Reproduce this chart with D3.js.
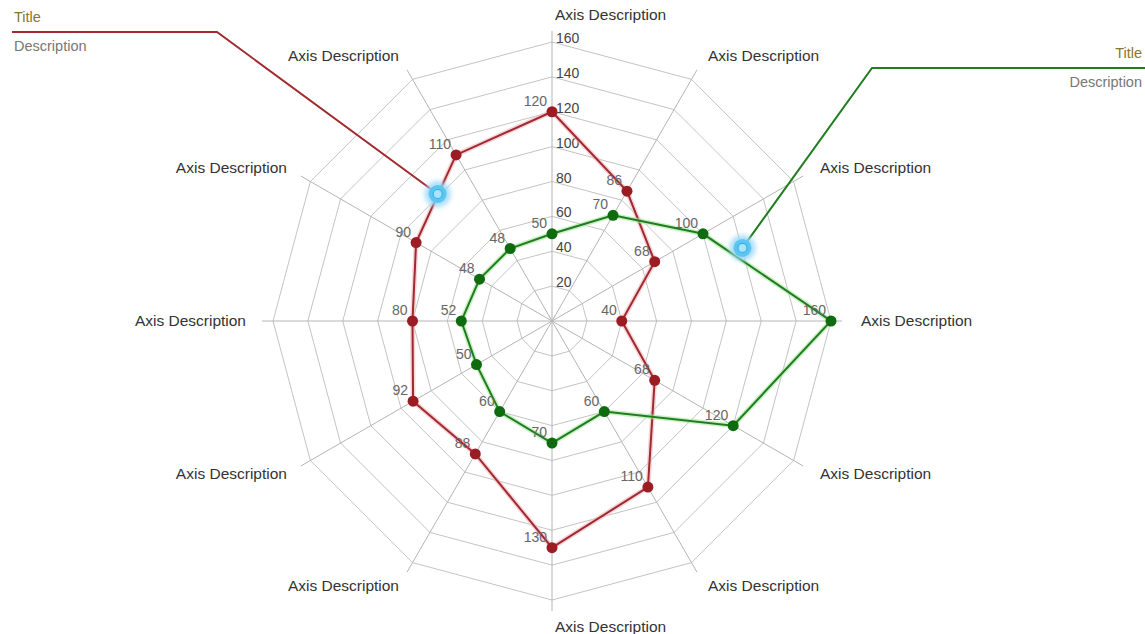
<!DOCTYPE html>
<html>
<head>
<meta charset="utf-8">
<script src="https://cdn.jsdelivr.net/npm/d3@7/dist/d3.min.js"></script>
<style>
  html, body { margin: 0; padding: 0; background: #fff; }
  svg { display: block; font-family: "Liberation Sans", Arial, sans-serif; }
</style>
</head>
<body>
<svg id="chart" width="1145" height="634"></svg>
<script>
// Radar chart: two series over twelve axes, with two callouts.
const axisLabels = [
  "Axis Description", "Axis Description", "Axis Description", "Axis Description",
  "Axis Description", "Axis Description", "Axis Description", "Axis Description",
  "Axis Description", "Axis Description", "Axis Description", "Axis Description"
];
const seriesRed   = [120, 86, 68, 40, 68, 110, 130, 88, 92, 80, 90, 110];
const seriesGreen = [50, 70, 100, 160, 120, 60, 70, 60, 50, 52, 48, 48];
const tickValues  = [20, 40, 60, 80, 100, 120, 140, 160];
const seriesNames = ["red", "green"];
const seriesColors = ["#a02a2e", "#1f7d1f"];
const pointColors  = ["#9c1c24", "#0e6b0e"];
const haloColors   = ["#f2b8c0", "#a9e6a0"];

// Callouts: an anchor in chart space (fractional axis index, value) with a title and text.
const calloutTitles = ["Title", "Title"];
const calloutTexts  = ["Description", "Description"];
const calloutAxis   = [10.6, 2.3];
const calloutValue  = [98, 117];
const calloutSide   = ["left", "right"];

const W = 1145, H = 634;
const cx = 552, cy = 321;
const rMax = 279, axisLen = 290, labelRad = 306;

const svg = d3.select("#chart");
const r = d3.scaleLinear().domain([0, 160]).range([0, rMax]);
const angle = d3.scaleLinear().domain([0, axisLabels.length]).range([0, 2 * Math.PI]);

const px = (i, v) => cx + r(v) * Math.sin(angle(i));
const py = (i, v) => cy - r(v) * Math.cos(angle(i));

const defs = svg.append("defs");
const glow = defs.append("filter").attr("id", "glow").attr("x", "-100%").attr("y", "-100%")
  .attr("width", "300%").attr("height", "300%");
glow.append("feGaussianBlur").attr("stdDeviation", 2.5);

// Grid rings
const grid = svg.append("g");
tickValues.forEach(t => {
  const pts = axisLabels.map((_, i) => [px(i, t), py(i, t)]);
  grid.append("polygon")
    .attr("points", pts.map(p => p.join(",")).join(" "))
    .attr("fill", "none").attr("stroke", "#c4c4c4").attr("stroke-width", 1);
});

// Axis spokes
axisLabels.forEach((_, i) => {
  grid.append("line")
    .attr("x1", cx).attr("y1", cy)
    .attr("x2", cx + axisLen * Math.sin(angle(i)))
    .attr("y2", cy - axisLen * Math.cos(angle(i)))
    .attr("stroke", "#b4b4b4").attr("stroke-width", 1);
});

// Axis labels
axisLabels.forEach((lab, i) => {
  const a = angle(i);
  const s = Math.sin(a);
  const right = s > -1e-6;
  svg.append("text")
    .attr("x", cx + labelRad * s + (right ? 3 : 0))
    .attr("y", cy - labelRad * Math.cos(a) + 5)
    .attr("text-anchor", right ? "start" : "end")
    .attr("font-size", 15.5).attr("fill", "#333")
    .text(lab);
});

// Tick labels along the top axis
tickValues.forEach(t => {
  svg.append("text")
    .attr("x", cx + 4).attr("y", cy - r(t) + 1)
    .attr("font-size", 14).attr("fill", "#444")
    .text(t);
});

// Series
const allSeries = [seriesRed, seriesGreen];
const lineGen = d3.line().x(d => d[0]).y(d => d[1]).curve(d3.curveLinearClosed);
allSeries.forEach((vals, k) => {
  const pts = vals.map((v, i) => [px(i, v), py(i, v)]);
  const g = svg.append("g").attr("class", "series-" + seriesNames[k]);
  g.append("path").attr("d", lineGen(pts))
    .attr("fill", "none").attr("stroke", haloColors[k]).attr("stroke-width", 5).attr("opacity", 0.6);
  g.append("path").attr("d", lineGen(pts))
    .attr("fill", "none").attr("stroke", seriesColors[k]).attr("stroke-width", 2);
  g.selectAll("circle").data(pts).enter().append("circle")
    .attr("cx", d => d[0]).attr("cy", d => d[1]).attr("r", 5.5)
    .attr("fill", pointColors[k]);
});

// Value labels
allSeries.forEach((vals, k) => {
  vals.forEach((v, i) => {
    svg.append("text")
      .attr("x", px(i, v) - 5).attr("y", py(i, v) - 6)
      .attr("text-anchor", "end")
      .attr("font-size", 14).attr("fill", "#666")
      .text(v);
  });
});

// Callouts
calloutTitles.forEach((title, k) => {
  const ax = px(calloutAxis[k], calloutValue[k]);
  const ay = py(calloutAxis[k], calloutValue[k]);
  const left = calloutSide[k] === "left";
  const railY = left ? 32 : 68;
  const kinkX = left ? 217 : 872;
  const endX = left ? 12 : W;
  svg.append("polyline")
    .attr("points", [[ax, ay], [kinkX, railY], [endX, railY]].map(p => p.join(",")).join(" "))
    .attr("fill", "none").attr("stroke", seriesColors[k]).attr("stroke-width", 2);
  const tx = left ? 14 : W - 3;
  svg.append("text")
    .attr("x", tx).attr("y", railY - 10)
    .attr("text-anchor", left ? "start" : "end")
    .attr("font-size", 14.5).attr("fill", "#86772c")
    .text(title);
  svg.append("text")
    .attr("x", tx).attr("y", railY + 19)
    .attr("text-anchor", left ? "start" : "end")
    .attr("font-size", 14.5).attr("fill", "#777")
    .text(calloutTexts[k]);
  // Highlight marker at the anchor
  svg.append("circle").attr("cx", ax).attr("cy", ay).attr("r", 13)
    .attr("fill", "#9ad8f7").attr("opacity", 0.85).attr("filter", "url(#glow)");
  svg.append("circle").attr("cx", ax).attr("cy", ay).attr("r", 9)
    .attr("fill", "#5cc6f3");
  svg.append("circle").attr("cx", ax).attr("cy", ay).attr("r", 4.5)
    .attr("fill", "#a8e4ff").attr("stroke", "#3aaee6").attr("stroke-width", 1.2);
});
</script>
</body>
</html>
